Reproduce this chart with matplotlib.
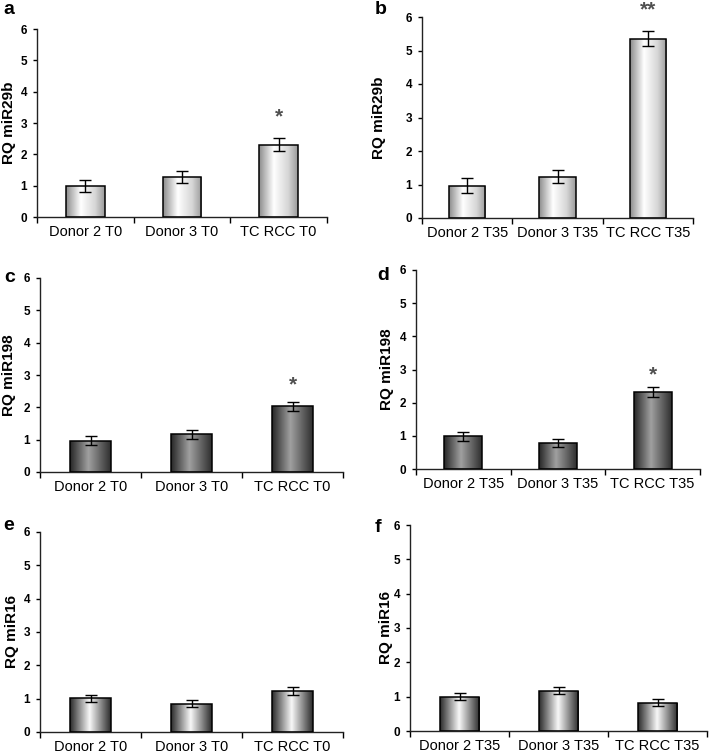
import numpy as np
import matplotlib
matplotlib.use("Agg")
import matplotlib.pyplot as plt
from matplotlib.colors import LinearSegmentedColormap

plt.rcParams['font.family'] = ['Liberation Sans', 'DejaVu Sans']

# ---------------- data ----------------
cats_T0 = ["Donor 2 T0", "Donor 3 T0", "TC RCC T0"]
cats_T35 = ["Donor 2 T35", "Donor 3 T35", "TC RCC T35"]

vals_a = [1.00, 1.28, 2.31]
errs_a = [0.19, 0.20, 0.20]
vals_b = [0.97, 1.23, 5.35]
errs_b = [0.22, 0.20, 0.22]
vals_c = [0.97, 1.17, 2.04]
errs_c = [0.14, 0.14, 0.14]
vals_d = [0.99, 0.79, 2.32]
errs_d = [0.14, 0.12, 0.15]
vals_e = [1.01, 0.85, 1.24]
errs_e = [0.11, 0.11, 0.12]
vals_f = [1.00, 1.17, 0.83]
errs_f = [0.11, 0.10, 0.11]

# significance marks (text, height in data units)
stars_a = ["", "", "*"]
stars_b = ["", "", "**"]
stars_c = ["", "", "*"]
stars_d = ["", "", "*"]
stars_e = ["", "", ""]
stars_f = ["", "", ""]
star_y_a = 3.3
star_y_b = 6.32
star_y_c = 2.8
star_y_d = 2.93

ylabels = ["RQ miR29b", "RQ miR29b", "RQ miR198", "RQ miR198", "RQ miR16", "RQ miR16"]
yticks = [0, 1, 2, 3, 4, 5, 6]

# ---------------- styles ----------------
W, H = 709, 754
fig = plt.figure(figsize=(W / 100, H / 100), dpi=100)

cm_light = LinearSegmentedColormap.from_list(
    "light", [(0, "#8c8c8c"), (0.38, "#ffffff"), (0.75, "#d6d6d6"), (1, "#9a9a9a")])
cm_dark = LinearSegmentedColormap.from_list(
    "dark", [(0, "#262626"), (0.45, "#a0a0a0"), (1, "#2e2e2e")])
cm_mid = LinearSegmentedColormap.from_list(
    "mid", [(0, "#2a2a2a"), (0.48, "#f8f8f8"), (1, "#2a2a2a")])

# pixel boxes: left, right, top, bottom
boxes = [
    (37, 327, 29, 217),
    (422, 693, 17, 218),
    (40, 343, 278, 472),
    (416, 700, 270, 469),
    (40, 343, 532, 732),
    (410, 707, 525, 731),
]
panel_letters = ["a", "b", "c", "d", "e", "f"]
letter_pos = [(9, 10), (381, 9), (10, 277), (383, 276), (9, 526), (378, 527)]
ylabel_x = [10, 380, 10, 388, 13, 387]

panels = [
    (cats_T0, vals_a, errs_a, stars_a, star_y_a, cm_light),
    (cats_T35, vals_b, errs_b, stars_b, star_y_b, cm_light),
    (cats_T0, vals_c, errs_c, stars_c, star_y_c, cm_dark),
    (cats_T35, vals_d, errs_d, stars_d, star_y_d, cm_dark),
    (cats_T0, vals_e, errs_e, stars_e, None, cm_mid),
    (cats_T35, vals_f, errs_f, stars_f, None, cm_mid),
]

grad = np.linspace(0, 1, 256).reshape(1, -1)

for i, (cats, vals, errs, stars, star_y, cmap) in enumerate(panels):
    l, r, t, b = boxes[i]
    ax = fig.add_axes([l / W, 1 - b / H, (r - l) / W, (b - t) / H])
    x = np.arange(len(cats))
    bars = ax.bar(x, vals, width=0.4, color="none", edgecolor="black",
                  linewidth=1.1, zorder=3)
    for bar in bars:
        bx, by = bar.get_x(), bar.get_y()
        bw, bh = bar.get_width(), bar.get_height()
        im = ax.imshow(grad, cmap=cmap, aspect="auto",
                       extent=[bx, bx + bw, by, by + bh], zorder=2,
                       interpolation="bilinear")
        im.set_clip_path(bar)
    ax.errorbar(x, vals, yerr=errs, fmt="none", ecolor="black",
                elinewidth=1.0, capsize=4, capthick=1.0, zorder=4)
    for xi, s in zip(x, stars):
        if s:
            ax.text(xi, star_y - 0.1, s, ha="center", va="center",
                    fontsize=15, color="#505050", clip_on=False,
                    fontweight="bold")
    ax.set_xlim(-0.5, 2.5)
    ax.set_ylim(0, 6)
    ax.set_yticks(yticks)
    ax.set_yticklabels([str(v) for v in yticks], fontsize=8.5, fontweight="bold")
    ax.set_xticks([-0.5, 0.5, 1.5, 2.5])
    ax.set_xticklabels([])
    ax.set_xticks(x, minor=True)
    ax.set_xticklabels(cats, minor=True, fontsize=10.5)
    ax.tick_params(axis="x", which="major", direction="out", length=4, width=1)
    ax.tick_params(axis="x", which="minor", length=0, pad=6)
    ax.tick_params(axis="y", direction="out", length=3, width=1, pad=4)
    for sp in ["top", "right"]:
        ax.spines[sp].set_visible(False)
    for sp in ["left", "bottom"]:
        ax.spines[sp].set_linewidth(1.0)
        ax.spines[sp].set_color("#222222")
    ax.set_ylabel(ylabels[i], fontsize=11, fontweight="bold")
    ax.yaxis.set_label_coords((ylabel_x[i] + 6 - l) / (r - l), 0.5)
    ax.patch.set_alpha(0)
    lx, ly = letter_pos[i]
    fig.text(lx / W, 1 - ly / H, panel_letters[i], fontsize=14,
             fontweight="bold", ha="center", va="center")

fig.savefig("out.png", dpi=100)
